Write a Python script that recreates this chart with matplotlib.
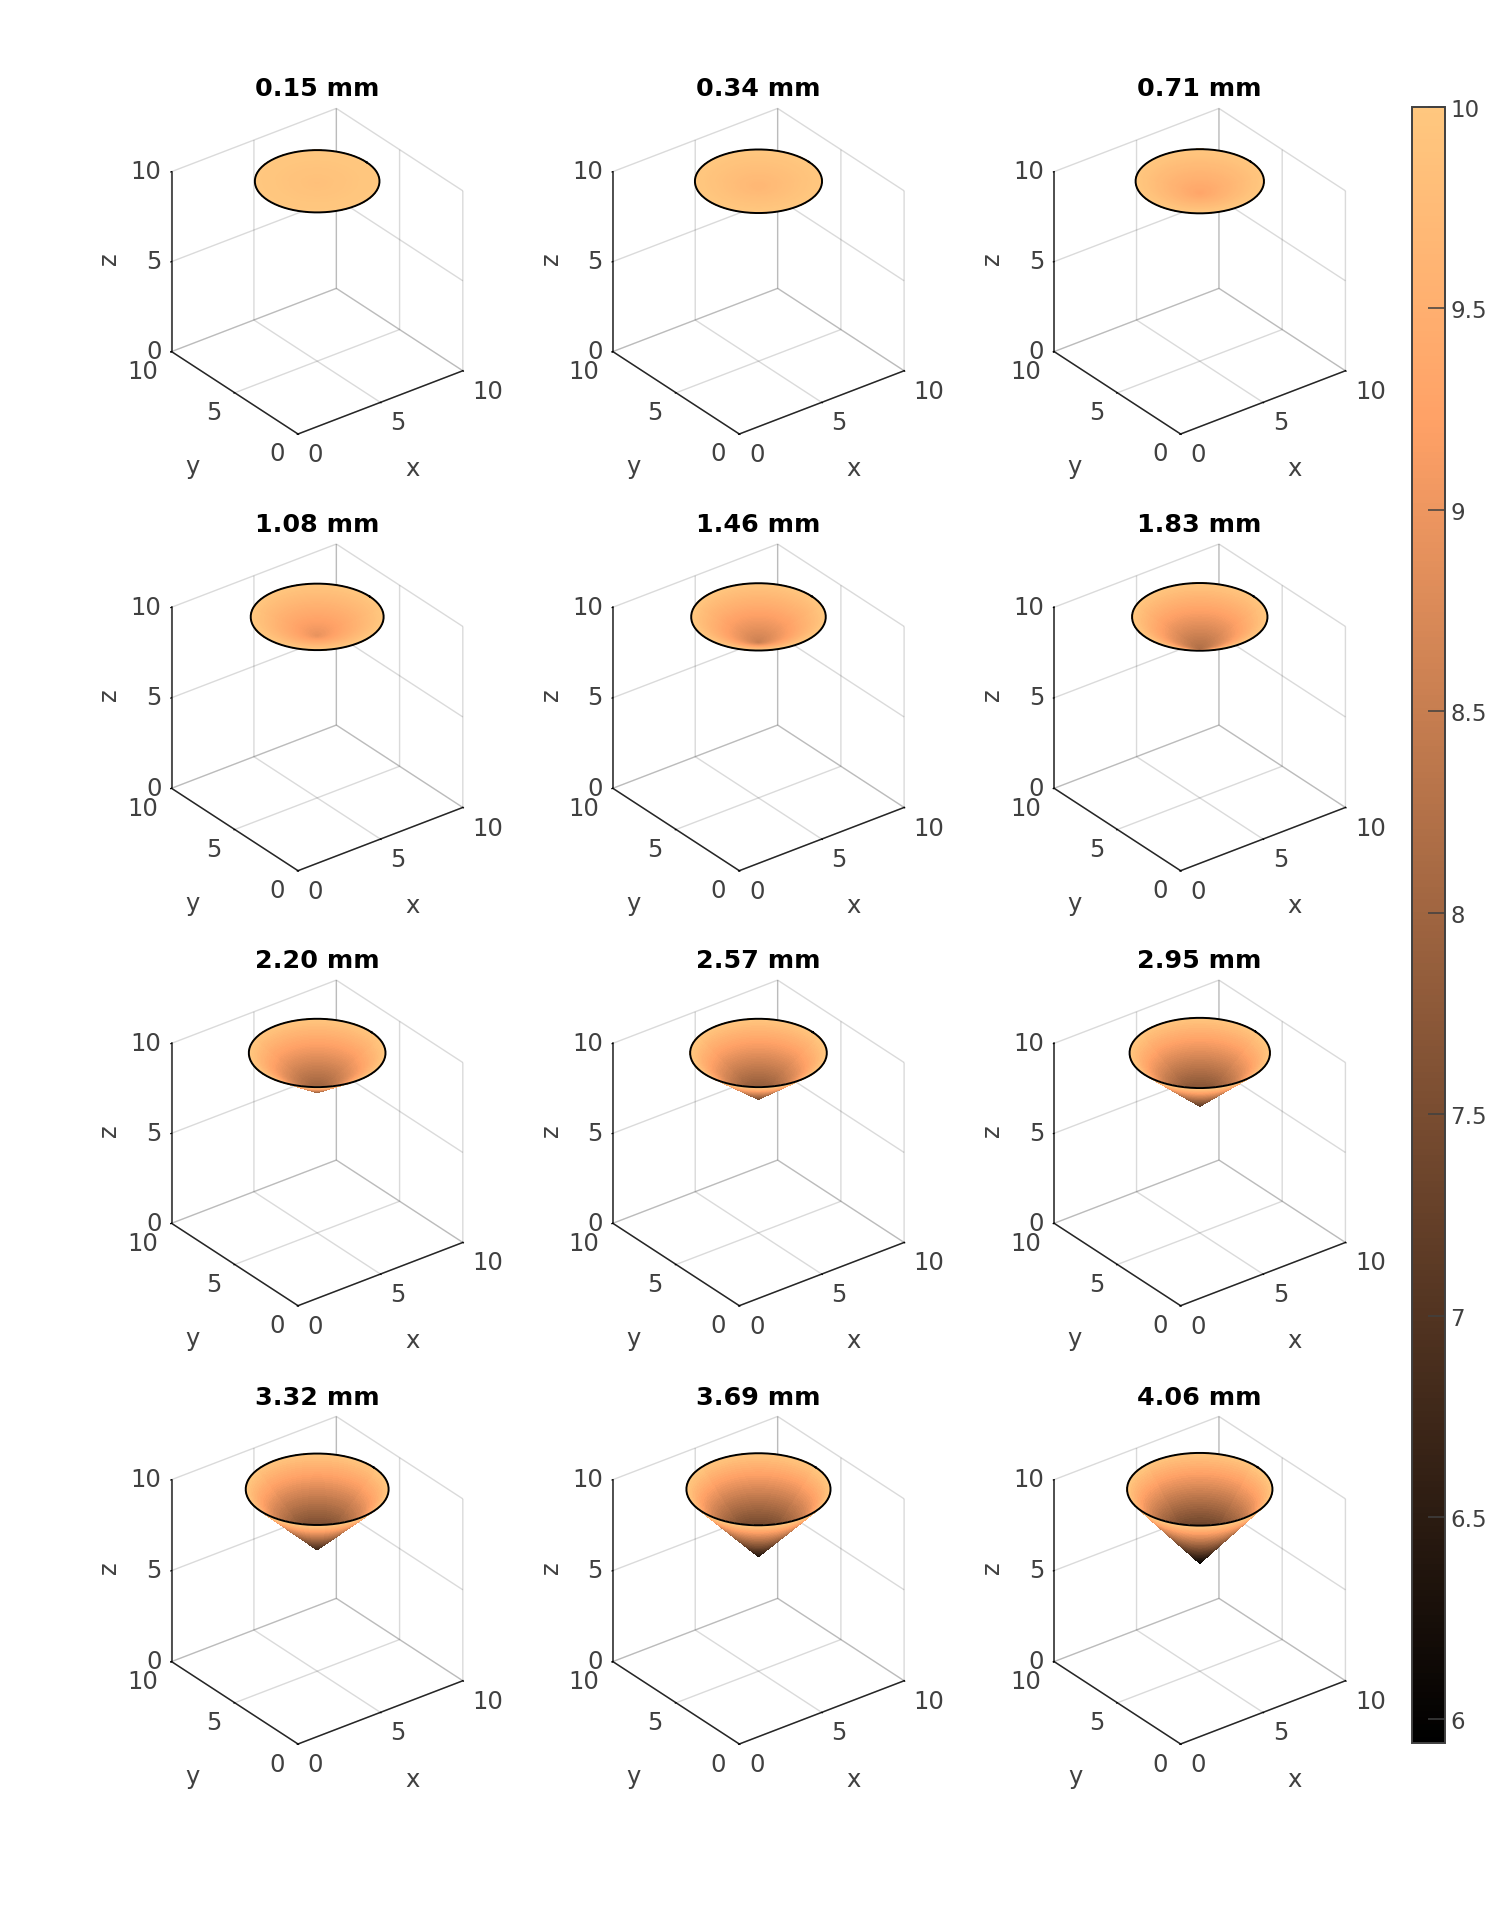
#!/usr/bin/env python3

import matplotlib
matplotlib.use("Agg")
import matplotlib.pyplot as plt
import numpy as np
from matplotlib.cm import ScalarMappable
from matplotlib.colors import Normalize
from mpl_toolkits.mplot3d import proj3d

# depth of each cone (panel titles) and rim radius
depth_mm = [0.15, 0.34, 0.71, 1.08, 1.46, 1.83, 2.20, 2.57, 2.95, 3.32, 3.69, 4.06]
rim_radius = [3.00, 3.06, 3.09, 3.20, 3.24, 3.26, 3.29, 3.29, 3.38, 3.44, 3.47, 3.50]
surface_level = 10.0
cone_center = (5.0, 5.0)
axis_ticks = [0, 5, 10]
cbar_ticks = [6, 6.5, 7, 7.5, 8, 8.5, 9, 9.5, 10]
cbar_labels = ["6", "6.5", "7", "7.5", "8", "8.5", "9", "9.5", "10"]

W, H = 1507, 1908
text_col = "#404040"
line_col = "#262626"
grid_col = (0.15, 0.15, 0.15, 0.17)
tick_size = 17.5
norm = Normalize(surface_level - max(depth_mm), surface_level)

# pixel positions of the cube corners, rows are not evenly spaced in the original
left_x = 171.7
right_x = 463.0
front_x = 298.0
front_y = [435.0, 871.7, 1306.7, 1745.0]
z_stretch = [1.0, 1.006, 1.0, 1.011]
title_y = [89.5, 524.5, 961.5, 1398.0]
col_step = 441.3


def to_px(ax, x, y, z):
    px, py, _ = proj3d.proj_transform(x, y, z, ax.get_proj())
    return ax.transData.transform((px, py))


def place(ax, row, col):
    # move a square axes so that the cube corners land on the wanted pixels
    S = 350.0
    ax.set_position([0.2, 0.2, S / W, S / H])
    span = to_px(ax, 10, 0, 0)[0] - to_px(ax, 0, 10, 0)[0]
    S = S * (right_x - left_x) / span
    ax.set_position([0.2, 0.2, S / W, S / H])
    fx, fy = to_px(ax, 0, 0, 0)
    want_x = front_x + col * col_step
    want_y = H - front_y[row]
    ax.set_position([0.2 + (want_x - fx) / W, 0.2 + (want_y - fy) / H, S / W, S / H])


def style_axis(ax, stretch):
    ax.view_init(elev=30, azim=-127.5)
    ax.set_proj_type("ortho")
    ax.set_box_aspect((1, 1, stretch))
    ax.set_facecolor("none")
    ax.set_xlim(0, 10, view_margin=0)
    ax.set_ylim(0, 10, view_margin=0)
    ax.set_zlim(0, 10, view_margin=0)
    ax.set_xticks(axis_ticks)
    ax.set_yticks(axis_ticks)
    ax.set_zticks(axis_ticks)
    ax.zaxis.set_ticks_position("upper")
    ax.zaxis.set_label_position("upper")
    ax.tick_params(labelsize=tick_size, labelcolor=text_col, pad=2.5)
    ax.tick_params(axis="x", pad=2)
    ax.tick_params(axis="z", pad=-3.5)
    for axis in (ax.xaxis, ax.yaxis, ax.zaxis):
        axis.set_pane_color((1, 1, 1, 0))
        axis.pane.set_edgecolor("none")
        axis.line.set_color(line_col)
        axis.line.set_linewidth(1.1)
        axis._axinfo["grid"]["color"] = grid_col
        axis._axinfo["grid"]["linewidth"] = 1.0
        axis._axinfo["tick"]["color"] = line_col
        axis._axinfo["tick"]["inward_factor"] = 0.06
        axis._axinfo["tick"]["outward_factor"] = 0.0
    plt.setp(ax.get_xticklabels(), ha="left", va="center")
    plt.setp(ax.get_yticklabels(), ha="right", va="center")
    plt.setp(ax.get_zticklabels(), ha="right", va="center")


def draw_cone(ax, depth, radius):
    rho = np.linspace(0, radius, 50)
    theta = np.linspace(0, 2 * np.pi, 73)
    R, T = np.meshgrid(rho, theta)
    X = cone_center[0] + R * np.cos(T)
    Y = cone_center[1] + R * np.sin(T)
    Z = surface_level - depth * (1 - R / radius)
    surf = ax.plot_surface(X, Y, Z, cmap="copper", norm=norm, rstride=1, cstride=1,
                           linewidth=0.3, antialiased=False, shade=False, zorder=2)
    surf.set_edgecolor("face")
    ax.plot(X[:, -1], Y[:, -1], Z[:, -1], color="black", lw=1.4, zorder=3)


fig = plt.figure(figsize=(W / 100, H / 100), dpi=100)

for i, (depth, radius) in enumerate(zip(depth_mm, rim_radius)):
    row, col = divmod(i, 3)
    ax = fig.add_subplot(projection="3d", computed_zorder=False)
    style_axis(ax, z_stretch[row])
    place(ax, row, col)
    draw_cone(ax, depth, radius)

    ax.yaxis._axinfo["label"]["ha"] = "left"
    ax.set_xlabel("x", fontsize=tick_size, color=text_col, labelpad=12, rotation=0)
    ax.set_ylabel("y", fontsize=tick_size, color=text_col, labelpad=18.5, rotation=0)
    ax.set_zlabel("z", fontsize=tick_size, color=text_col, labelpad=7, rotation=90)
    ax.xaxis.set_rotate_label(False)
    ax.yaxis.set_rotate_label(False)
    ax.zaxis.set_rotate_label(False)

    tx = 317.0 + col * col_step
    fig.text(tx / W, 1 - title_y[row] / H, f"{depth:.2f} mm", fontsize=18.3,
             fontweight="bold", ha="center", va="center", color="black")

# colorbar
cax = fig.add_axes([1412 / W, 1 - 1744 / H, 33 / W, (1744 - 108) / H])
cb = fig.colorbar(ScalarMappable(norm=norm, cmap="copper"), cax=cax)
cb.set_ticks(cbar_ticks)
cb.set_ticklabels(cbar_labels)
cb.ax.tick_params(direction="in", length=12, width=1.1, color=text_col,
                  labelsize=16.5, labelcolor=text_col, pad=4)
cb.outline.set_edgecolor(text_col)
cb.outline.set_linewidth(1.4)

fig.savefig("out.png", dpi=100)
